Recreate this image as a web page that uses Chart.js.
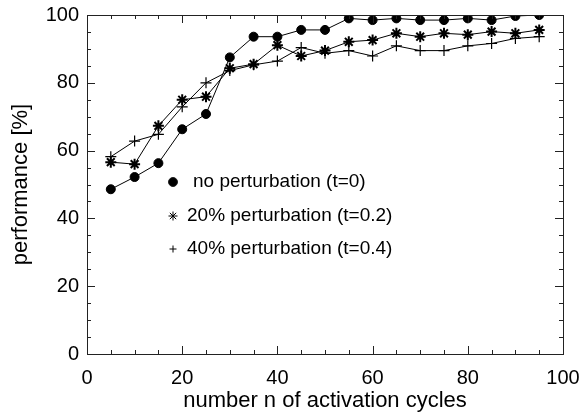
<!DOCTYPE html>
<html>
<head>
<meta charset="utf-8">
<script src="https://cdn.jsdelivr.net/npm/chart.js@4"></script>
<style>
    html, body { margin: 0; padding: 0; background: #fff; }
    #wrap { width: 585px; height: 412px; }
</style>
</head>
<body>
<div id="wrap"><canvas id="perfChart" width="585" height="412"></canvas></div>
<script>
// Data
const cycles = [5, 10, 15, 20, 25, 30, 35, 40, 45, 50, 55, 60, 65, 70, 75, 80, 85, 90, 95];
const perfNone = [48.6, 52.2, 56.3, 66.3, 70.8, 87.5, 93.6, 93.6, 95.6, 95.6, 99.0, 98.5, 99.0, 98.5, 98.5, 99.0, 98.5, 99.7, 100.0];
const perf20 = [56.6, 56.0, 67.3, 75.0, 75.9, 84.3, 85.5, 91.1, 87.9, 89.5, 92.1, 92.6, 94.6, 93.6, 94.6, 94.2, 95.1, 94.6, 95.6];
const perf40 = [58.2, 62.8, 64.8, 72.9, 80.0, 83.6, 85.3, 86.4, 90.4, 88.7, 89.5, 87.9, 90.9, 89.5, 89.5, 90.9, 91.6, 93.1, 93.6];
const seriesLabels = ['no perturbation (t=0)', '20% perturbation (t=0.2)', '40% perturbation (t=0.4)'];
const axisTicks = [0, 20, 40, 60, 80, 100];

const FONT = '"Liberation Sans", Arial, Helvetica, sans-serif';
const ink = '#000';

function toPoints(ys) {
    return cycles.map((c, i) => ({ x: c, y: ys[i] }));
}

// Frame with inward ticks on all four sides, plus the in-plot legend
const framePlugin = {
    id: 'frame',
    afterDraw(chart) {
        const { ctx, chartArea: a, scales } = chart;
        const xs = scales.x, ys = scales.y;
        ctx.save();
        ctx.strokeStyle = '#222';
        ctx.lineWidth = 1;
        ctx.strokeRect(Math.round(a.left) + 0.5, Math.round(a.top) + 0.5,
            Math.round(a.right - a.left), Math.round(a.bottom - a.top));

        ctx.beginPath();
        for (let v = 0; v <= 100; v += 5) {
            const len = v % 20 === 0 ? 8 : 4;
            const px = Math.round(xs.getPixelForValue(v)) + 0.5;
            ctx.moveTo(px, a.bottom); ctx.lineTo(px, a.bottom - len);
            ctx.moveTo(px, a.top); ctx.lineTo(px, a.top + len);
            const py = Math.round(ys.getPixelForValue(v)) + 0.5;
            ctx.moveTo(a.left, py); ctx.lineTo(a.left + len, py);
            ctx.moveTo(a.right, py); ctx.lineTo(a.right - len, py);
        }
        ctx.stroke();

        // legend
        const rows = [
            { y: 182, tx: 193 },
            { y: 216, tx: 187 },
            { y: 249, tx: 187 }
        ];
        const mx = 173;
        ctx.fillStyle = ink;
        ctx.font = '19px ' + FONT;
        ctx.textBaseline = 'middle';
        chart.data.datasets.forEach((ds, i) => {
            const r = rows[i];
            Chart.helpers.drawPoint(ctx, {
                pointStyle: ds.pointStyle,
                radius: ds.pointStyle === 'cross' ? 3.5 : 4.5,
                borderWidth: ds.pointBorderWidth || 1
            }, mx, r.y);
            ctx.fillStyle = ink;
            ctx.strokeStyle = ink;
            ctx.fillText(ds.label, r.tx, r.y);
        });
        ctx.restore();
    }
};

const baseDataset = {
    borderColor: ink,
    backgroundColor: ink,
    borderWidth: 1,
    pointBorderColor: ink,
    pointBackgroundColor: ink,
    tension: 0
};

new Chart(document.getElementById('perfChart'), {
    type: 'line',
    data: {
        datasets: [
            Object.assign({}, baseDataset, {
                label: seriesLabels[0],
                data: toPoints(perfNone),
                pointStyle: 'circle',
                pointRadius: 4.5,
                pointBorderWidth: 1
            }),
            Object.assign({}, baseDataset, {
                label: seriesLabels[1],
                data: toPoints(perf20),
                pointStyle: 'star',
                pointRadius: 5.5,
                pointBorderWidth: 2,
                pointBackgroundColor: 'rgba(0,0,0,0)'
            }),
            Object.assign({}, baseDataset, {
                label: seriesLabels[2],
                data: toPoints(perf40),
                pointStyle: 'cross',
                pointRadius: 5.5,
                pointBorderWidth: 1.2,
                pointBackgroundColor: 'rgba(0,0,0,0)'
            })
        ]
    },
    options: {
        responsive: false,
        animation: false,
        layout: { padding: { top: 15, right: 22, left: 0, bottom: 0 } },
        plugins: {
            legend: { display: false },
            tooltip: { enabled: false }
        },
        scales: {
            x: {
                type: 'linear',
                min: 0,
                max: 100,
                afterBuildTicks: (s) => { s.ticks = axisTicks.map(v => ({ value: v })); },
                afterFit: (s) => { s.height = 58; s.paddingLeft = 0; s.paddingRight = 0; },
                grid: { display: false, drawTicks: false },
                border: { display: false },
                ticks: {
                    color: ink,
                    padding: 12,
                    maxRotation: 0,
                    font: { family: FONT, size: 20 }
                },
                title: {
                    display: true,
                    text: 'number n of activation cycles',
                    color: ink,
                    padding: { top: 0, bottom: 0 },
                    font: { family: FONT, size: 22, lineHeight: 1 }
                }
            },
            y: {
                min: 0,
                max: 100,
                afterBuildTicks: (s) => { s.ticks = axisTicks.map(v => ({ value: v })); },
                afterFit: (s) => { s.width = 87; s.paddingTop = 0; s.paddingBottom = 0; },
                grid: { display: false, drawTicks: false },
                border: { display: false },
                ticks: {
                    color: ink,
                    padding: 8,
                    font: { family: FONT, size: 20 }
                },
                title: {
                    display: true,
                    text: 'performance [%]',
                    color: ink,
                    padding: { top: 10, bottom: 0 },
                    font: { family: FONT, size: 22, lineHeight: 1 }
                }
            }
        }
    },
    plugins: [framePlugin]
});
</script>
</body>
</html>
